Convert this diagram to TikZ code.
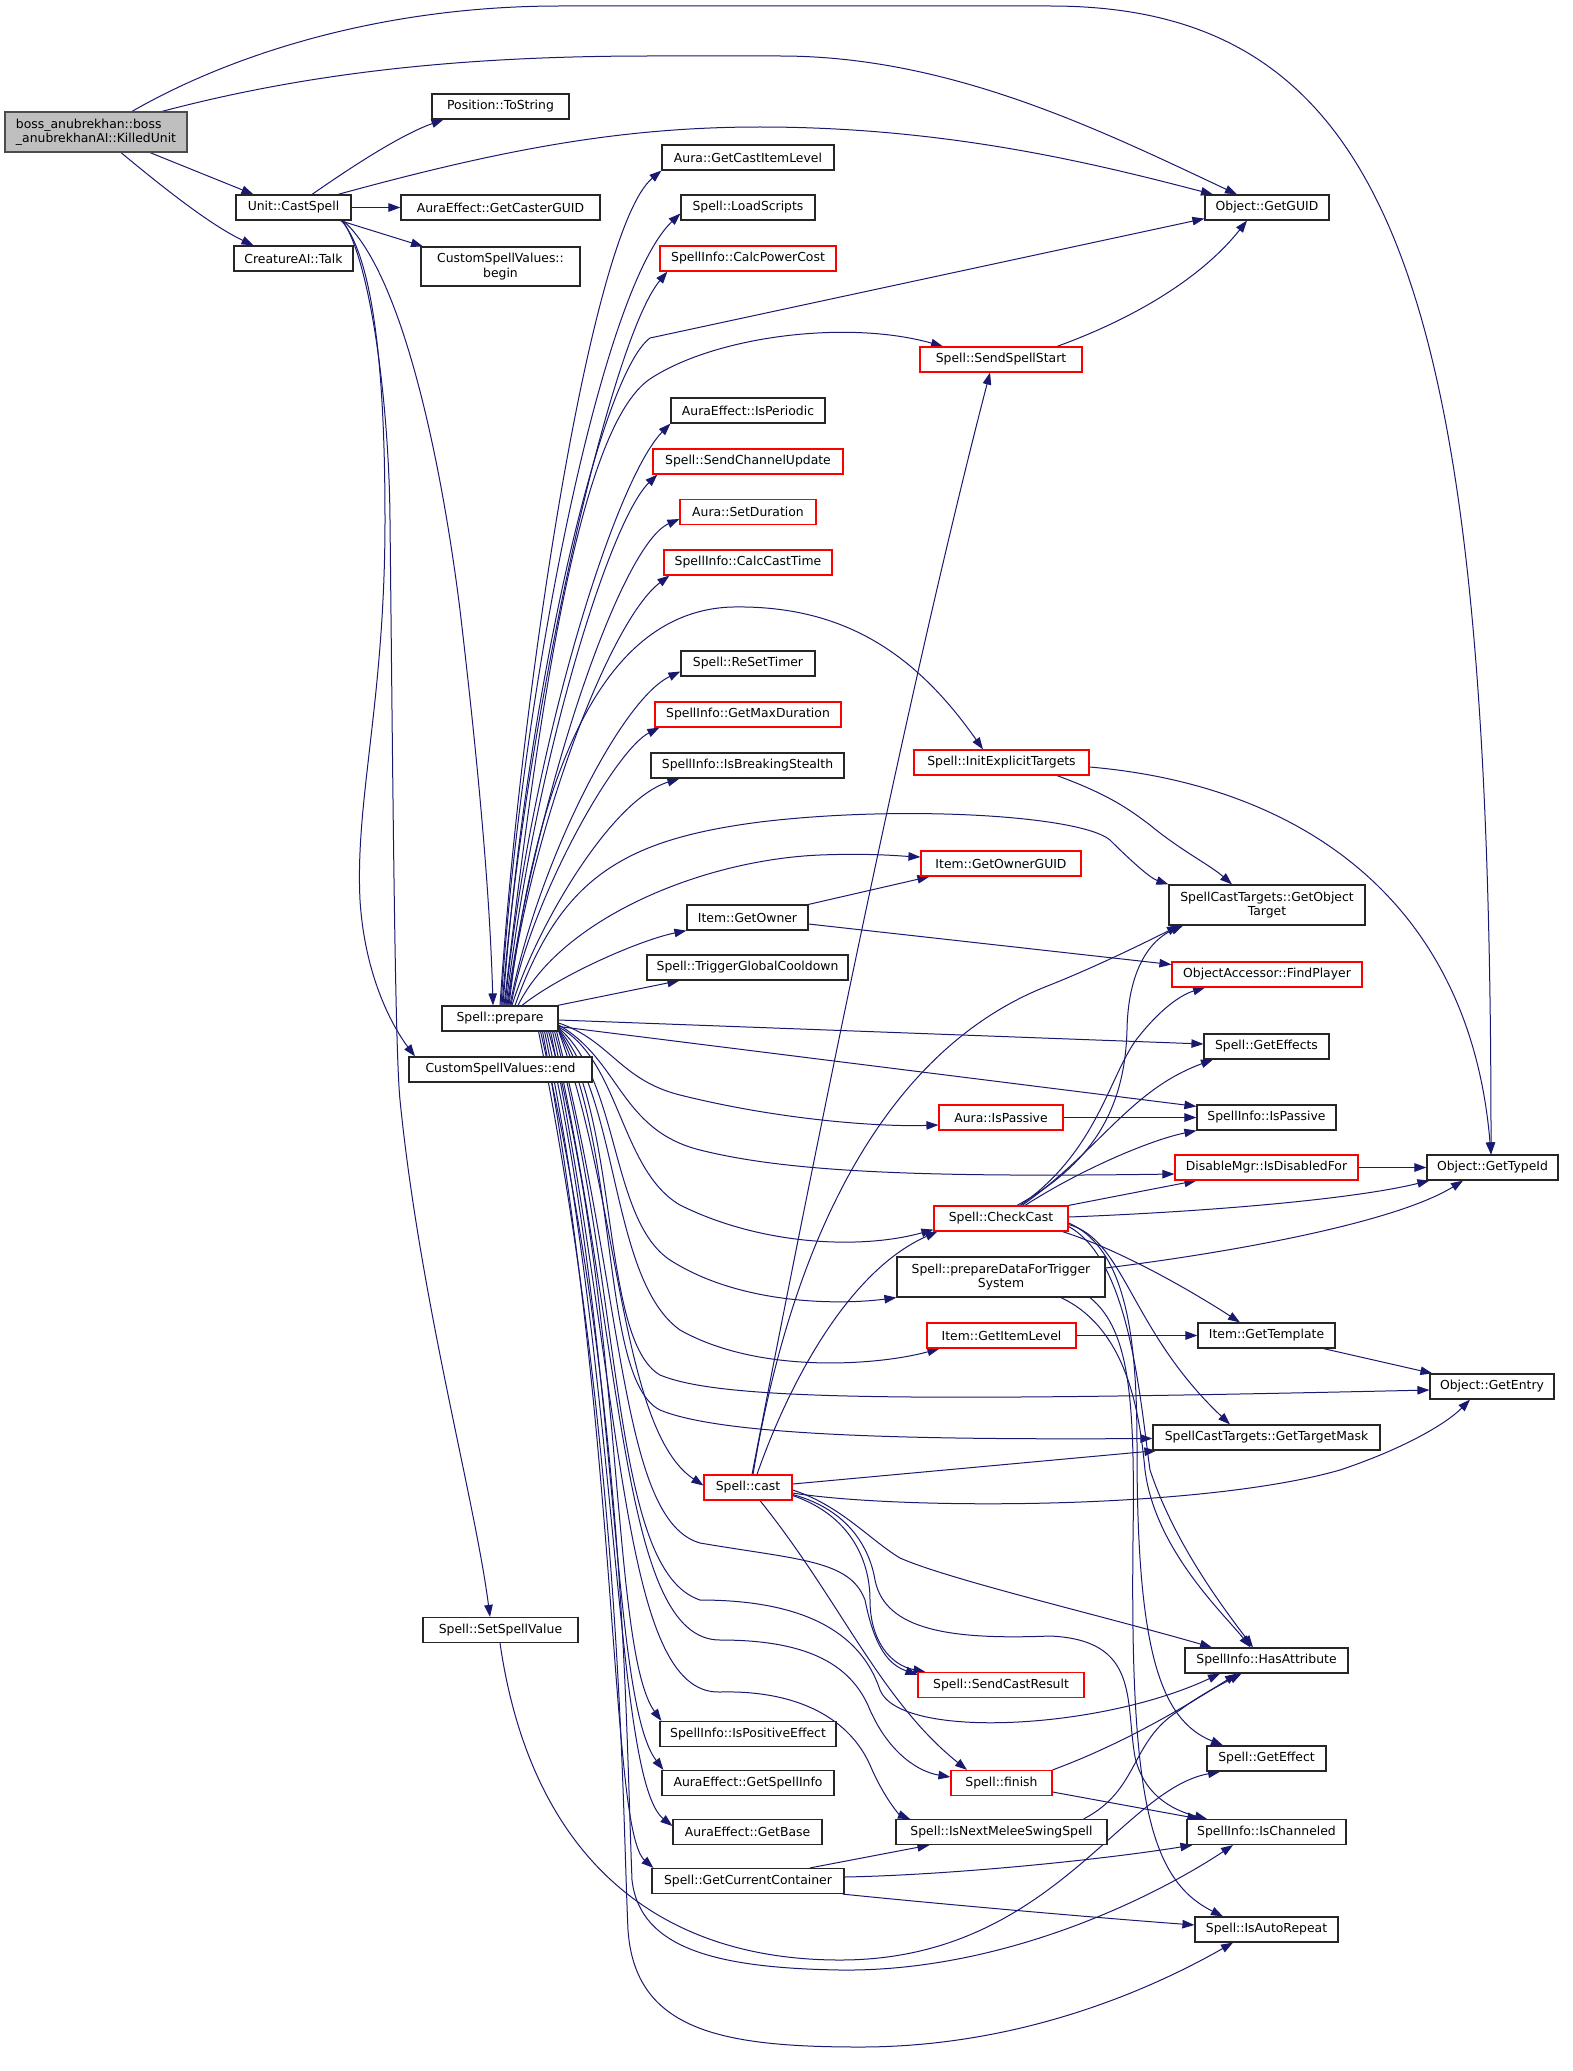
\documentclass[tikz,border=0pt]{standalone}
\usepackage{fontspec}
\newfontfamily\dvs{DejaVu Sans}
\usetikzlibrary{arrows.meta}
\definecolor{edgeblue}{HTML}{191970}
\definecolor{rootgray}{HTML}{BFBFBF}
\pgfdeclarelayer{bg}
\pgfsetlayers{bg,main}
\begin{document}
\begin{tikzpicture}[x=1pt,y=-1pt,
  fn/.style={draw=black!85, line width=1.2pt, fill=white, inner sep=0pt, minimum height=25pt,
             font=\dvs\fontsize{12.4}{14.3}\selectfont, text=black},
  fnred/.style={fn, draw=red},
  fnroot/.style={fn, fill=rootgray, draw=black!70},
  cg/.style={draw=edgeblue, line width=1pt, -{Triangle[length=12pt,width=8.5pt]}}]
\useasboundingbox (0,0) rectangle (1573,2071);

% ---------- nodes ----------
\node[fnroot, minimum width=182pt, minimum height=40pt, align=left] (boss) at (96,132) {boss\_anubrekhan::boss\\\_anubrekhanAI::KilledUnit};
\node[fn, minimum width=115pt] (castspell) at (293.5,207.5) {Unit::CastSpell};
\node[fn, minimum width=119pt] (talk) at (293.5,258.5) {CreatureAI::Talk};
\node[fn, minimum width=137pt] (tostring) at (500.5,106.5) {Position::ToString};
\node[fn, minimum width=199pt] (castguid) at (500.5,207.5) {AuraEffect::GetCasterGUID};
\node[fn, minimum width=159pt, minimum height=39pt, align=center] (begin) at (500.5,266.5) {CustomSpellValues::\\begin};
\node[fn, minimum width=183pt] (cend) at (500.5,1069.5) {CustomSpellValues::end};
\node[fn, minimum width=155pt] (setspell) at (500.5,1630) {Spell::SetSpellValue};
\node[fn, minimum width=116pt] (prepare) at (500,1018.5) {Spell::prepare};

\node[fn, minimum width=172pt] (getcastitem) at (748,157.5) {Aura::GetCastItemLevel};
\node[fn, minimum width=134pt] (loadscripts) at (748,207.5) {Spell::LoadScripts};
\node[fnred, minimum width=176pt] (calcpower) at (748,258.5) {SpellInfo::CalcPowerCost};
\node[fn, minimum width=154pt] (isperiodic) at (748,410.5) {AuraEffect::IsPeriodic};
\node[fnred, minimum width=190pt] (sendchannel) at (748,461.5) {Spell::SendChannelUpdate};
\node[fnred, minimum width=136pt] (setduration) at (748,512) {Aura::SetDuration};
\node[fnred, minimum width=168pt] (calccast) at (748,562.5) {SpellInfo::CalcCastTime};
\node[fn, minimum width=134pt] (resettimer) at (748,663.5) {Spell::ReSetTimer};
\node[fnred, minimum width=186pt] (getmaxdur) at (748,714.5) {SpellInfo::GetMaxDuration};
\node[fn, minimum width=193pt] (breaking) at (747.5,765.5) {SpellInfo::IsBreakingStealth};
\node[fn, minimum width=121pt] (getowner) at (747.5,917.5) {Item::GetOwner};
\node[fn, minimum width=201pt] (triggergcd) at (747.5,967.5) {Spell::TriggerGlobalCooldown};
\node[fnred, minimum width=88pt] (cast) at (748,1487.5) {Spell::cast};
\node[fn, minimum width=176pt] (ispositive) at (748,1734) {SpellInfo::IsPositiveEffect};
\node[fn, minimum width=172pt] (getspellinfo) at (748,1783) {AuraEffect::GetSpellInfo};
\node[fn, minimum width=149pt] (getbase) at (747.5,1832) {AuraEffect::GetBase};
\node[fn, minimum width=192pt] (getcontainer) at (748,1881) {Spell::GetCurrentContainer};

\node[fnred, minimum width=162pt] (sendspellstart) at (1001,359.5) {Spell::SendSpellStart};
\node[fnred, minimum width=175pt] (initexplicit) at (1001.5,762.5) {Spell::InitExplicitTargets};
\node[fnred, minimum width=160pt] (getownerguid) at (1001,863.5) {Item::GetOwnerGUID};
\node[fnred, minimum width=124pt] (auraispassive) at (1001,1117.5) {Aura::IsPassive};
\node[fnred, minimum width=134pt] (checkcast) at (1001,1218.5) {Spell::CheckCast};
\node[fn, minimum width=208pt, minimum height=40pt, align=center] (preparedata) at (1001,1277) {Spell::prepareDataForTrigger\\System};
\node[fnred, minimum width=149pt] (getitemlevel) at (1001.5,1335.5) {Item::GetItemLevel};
\node[fnred, minimum width=166pt] (sendcastresult) at (1001,1685) {Spell::SendCastResult};
\node[fnred, minimum width=101pt] (finish) at (1001.5,1783) {Spell::finish};
\node[fn, minimum width=211pt] (isnextmelee) at (1001.5,1832) {Spell::IsNextMeleeSwingSpell};

\node[fn, minimum width=124pt] (getguid) at (1267,207.5) {Object::GetGUID};
\node[fn, minimum width=196pt, minimum height=40pt, align=center] (getobjtarget) at (1267,905) {SpellCastTargets::GetObject\\Target};
\node[fnred, minimum width=190pt] (findplayer) at (1267,974.5) {ObjectAccessor::FindPlayer};
\node[fn, minimum width=125pt] (geteffects) at (1266.5,1046.5) {Spell::GetEffects};
\node[fn, minimum width=139pt] (infoispassive) at (1266.5,1117.5) {SpellInfo::IsPassive};
\node[fnred, minimum width=183pt] (disabled) at (1266.5,1167.5) {DisableMgr::IsDisabledFor};
\node[fn, minimum width=137pt] (gettemplate) at (1266.5,1335.5) {Item::GetTemplate};
\node[fn, minimum width=227pt] (gettargetmask) at (1266.5,1437.5) {SpellCastTargets::GetTargetMask};
\node[fn, minimum width=163pt] (hasattr) at (1266.5,1660.5) {SpellInfo::HasAttribute};
\node[fn, minimum width=119pt] (geteffect) at (1266.5,1758.5) {Spell::GetEffect};
\node[fn, minimum width=159pt] (ischanneled) at (1266.5,1832) {SpellInfo::IsChanneled};
\node[fn, minimum width=143pt] (isautorepeat) at (1266.5,1929.5) {Spell::IsAutoRepeat};

\node[fn, minimum width=131pt] (gettypeid) at (1492.5,1167.5) {Object::GetTypeId};
\node[fn, minimum width=124pt] (getentry) at (1492,1386.5) {Object::GetEntry};

% ---------- edges ----------
\begin{pgfonlayer}{bg}
\fill[white] (0,0) rectangle (1573,2071);
% root
\draw[cg] ([xshift=36pt]boss.north) .. controls (230,55) and (380,6) .. (560,6) -- (1050,6) .. controls (1400,6) and (1491,300) .. ([xshift=-1.5pt]gettypeid.north);
\draw[cg] ([xshift=66pt]boss.north) .. controls (300,75) and (450,56) .. (650,56) -- (780,56) .. controls (950,56) and (1100,130) .. ([xshift=-30pt]getguid.north);
\draw[cg] ([xshift=54pt]boss.south) -- ([xshift=-40pt]castspell.north);
\draw[cg] ([xshift=25pt]boss.south) .. controls (160,185) and (210,225) .. ([xshift=-40pt]talk.north);
% Unit::CastSpell
\draw[cg] ([xshift=18.5pt]castspell.north) .. controls (350,168) and (400,135) .. ([xshift=-57pt]tostring.south);
\draw[cg] ([xshift=44.5pt]castspell.north) .. controls (500,150) and (620,127) .. (760,127) .. controls (950,127) and (1100,165) .. ([xshift=-54pt]getguid.north);
\draw[cg] (castspell.east) -- (castguid.west);
\draw[cg] ([xshift=46.5pt]castspell.south) -- ([xshift=-77.5pt]begin.north);
\draw[cg] ([xshift=49.5pt]castspell.south) .. controls (400,270) and (440,450) .. (460,610) .. controls (480,780) and (490,900) .. ([xshift=-7pt]prepare.north);
\draw[cg] ([xshift=48pt]castspell.south) .. controls (375,260) and (385,380) .. (385,520) .. controls (385,700) and (355,800) .. (360,900) .. controls (365,980) and (395,1030) .. ([xshift=-85.5pt]cend.north);
\draw[cg] ([xshift=49pt]castspell.south) .. controls (370,260) and (389,400) .. (390,520) .. controls (393,800) and (395,1050) .. (400,1100) .. controls (420,1300) and (475,1500) .. ([xshift=-10.5pt]setspell.north);
% SetSpellValue
\draw[cg] ([xshift=-0.5pt]setspell.south) .. controls (530,1850) and (650,1960) .. (840,1960) .. controls (1050,1960) and (1120,1790) .. ([xshift=-46.5pt]geteffect.south);
% Spell::prepare - upper fan
\draw[cg] (prepare.north) .. controls (520,700) and (590,230) .. (getcastitem.south west);
\draw[cg] ([xshift=1pt]prepare.north) .. controls (520,700) and (600,290) .. ([yshift=-6pt]loadscripts.west);
\draw[cg] ([xshift=2pt]prepare.north) .. controls (525,720) and (610,340) .. ([xshift=8pt]calcpower.south west);
\draw[cg] ([xshift=3pt]prepare.north) .. controls (525,700) and (600,375) .. (650,338) -- ([yshift=2pt]getguid.south west);
\draw[cg] ([xshift=4pt]prepare.north) .. controls (540,700) and (580,420) .. (653,377) .. controls (720,335) and (850,320) .. ([xshift=-58pt]sendspellstart.north);
\draw[cg] ([xshift=5pt]prepare.north) .. controls (530,750) and (615,480) .. (isperiodic.south west);
\draw[cg] ([xshift=6pt]prepare.north) .. controls (535,760) and (610,520) .. ([xshift=5pt]sendchannel.south west);
\draw[cg] ([xshift=7pt]prepare.north) .. controls (535,800) and (620,545) .. ([yshift=-7pt]setduration.west);
\draw[cg] ([xshift=8pt]prepare.north) .. controls (530,830) and (610,620) .. ([xshift=6pt]calccast.south west);
\draw[cg] ([xshift=9pt]prepare.north) .. controls (535,780) and (600,610) .. (733,607) .. controls (850,605) and (920,660) .. ([xshift=-18.5pt]initexplicit.north);
\draw[cg] ([xshift=10pt]prepare.north) .. controls (535,870) and (620,700) .. ([yshift=-8pt]resettimer.west);
\draw[cg] ([xshift=11pt]prepare.north) .. controls (530,900) and (615,750) .. ([xshift=5pt]getmaxdur.south west);
\draw[cg] ([xshift=12pt]prepare.north) .. controls (535,930) and (610,800) .. ([xshift=29pt]breaking.south west);
\draw[cg] ([xshift=15pt]prepare.north) .. controls (560,880) and (620,840) .. (760,822) .. controls (900,805) and (1080,815) .. (1110,840) .. controls (1130,860) and (1150,878) .. (getobjtarget.north west);
\draw[cg] ([xshift=18pt]prepare.north) .. controls (560,920) and (700,860) .. (820,855) .. controls (870,853) and (900,856) .. ([yshift=6.5pt]getownerguid.west);
\draw[cg] ([xshift=22pt]prepare.north) .. controls (560,975) and (640,940) .. (getowner.south west);
\draw[cg] ([xshift=-1pt]prepare.north east) -- ([xshift=33pt]triggergcd.south west);
% Spell::prepare - right fan
\draw[cg] ([yshift=-1.5pt]prepare.east) -- ([yshift=2.5pt]geteffects.west);
\draw[cg] ([yshift=-8pt]prepare.east) -- ([yshift=-2pt]infoispassive.north west);
\draw[cg] ([yshift=-4.5pt]prepare.east) .. controls (610,1040) and (620,1080) .. (680,1095) .. controls (780,1120) and (880,1127) .. ([yshift=-7.5pt]auraispassive.west);
\draw[cg] ([yshift=-6.5pt]prepare.east) .. controls (620,1060) and (620,1130) .. (700,1150) .. controls (780,1170) and (900,1178) .. ([yshift=-6.5pt]disabled.west);
\draw[cg] ([yshift=-8.5pt]prepare.east) .. controls (620,1060) and (620,1170) .. (680,1205) .. controls (760,1245) and (860,1250) .. ([yshift=2pt]checkcast.south west);
\draw[cg] ([yshift=-9.5pt]prepare.east) .. controls (620,1080) and (610,1220) .. (670,1260) .. controls (740,1305) and (840,1305) .. (preparedata.south west);
\draw[cg] ([yshift=-10.5pt]prepare.east) .. controls (620,1100) and (610,1280) .. (680,1330) .. controls (760,1375) and (880,1365) .. ([xshift=13pt]getitemlevel.south west);
\draw[cg] ([yshift=-11.5pt]prepare.east) .. controls (620,1120) and (600,1340) .. (660,1375) .. controls (720,1400) and (900,1402) .. ([yshift=-3.5pt]getentry.west);
\draw[cg] ([yshift=-12pt]prepare.east) .. controls (620,1150) and (600,1380) .. (660,1410) .. controls (720,1435) and (900,1440) .. ([yshift=-1pt]gettargetmask.west);
\draw[cg] ([yshift=-12.5pt]prepare.east) .. controls (620,1200) and (620,1430) .. ([yshift=2pt]cast.west);
% Spell::prepare - downward
\draw[cg] ([xshift=-2pt]prepare.south east) .. controls (625,1300) and (620,1520) .. (700,1543) .. controls (800,1560) and (850,1560) .. (865,1600) .. controls (875,1650) and (890,1665) .. ([yshift=-3pt]sendcastresult.north west);
\draw[cg] ([xshift=-4pt]prepare.south east) .. controls (625,1300) and (610,1570) .. (700,1600) .. controls (800,1600) and (860,1630) .. (880,1690) .. controls (900,1740) and (1100,1730) .. ([xshift=-46.5pt]hasattr.south);
\draw[cg] ([xshift=-6pt]prepare.south east) .. controls (625,1350) and (620,1640) .. (720,1640) .. controls (800,1640) and (850,1660) .. (870,1710) .. controls (890,1755) and (920,1772) .. ([yshift=6pt]finish.west);
\draw[cg] ([xshift=-8pt]prepare.south east) .. controls (625,1400) and (620,1695) .. (720,1692) .. controls (800,1690) and (850,1720) .. (870,1765) .. controls (885,1800) and (900,1815) .. ([xshift=-91.5pt]isnextmelee.north);
\draw[cg] ([xshift=-10pt]prepare.south east) .. controls (625,1300) and (610,1650) .. ([xshift=2pt]ispositive.north west);
\draw[cg] ([xshift=-12pt]prepare.south east) .. controls (620,1350) and (610,1700) .. ([xshift=2pt]getspellinfo.north west);
\draw[cg] ([xshift=-14pt]prepare.south east) .. controls (620,1400) and (615,1780) .. ([yshift=6pt]getbase.west);
\draw[cg] ([xshift=-16pt]prepare.south east) .. controls (620,1450) and (610,1830) .. ([xshift=2pt]getcontainer.north west);
\draw[cg] ([xshift=-18pt]prepare.south east) .. controls (625,1400) and (625,1700) .. (632,1880) .. controls (640,1950) and (720,1968) .. (840,1970) .. controls (1000,1972) and (1150,1900) .. ([xshift=-33.5pt]ischanneled.south);
\draw[cg] ([xshift=-20pt]prepare.south east) .. controls (622,1450) and (622,1800) .. (628,1930) .. controls (635,2030) and (720,2047) .. (860,2047) .. controls (1020,2047) and (1150,1990) .. ([xshift=-33.5pt]isautorepeat.south);
% Spell::cast
\draw[cg] ([xshift=4pt]cast.north) .. controls (805,1200) and (905,700) .. ([xshift=-11pt]sendspellstart.south);
\draw[cg] ([xshift=5pt]cast.north) .. controls (790,1250) and (880,1050) .. (1050,985) .. controls (1100,965) and (1150,940) .. ([xshift=-88pt]getobjtarget.south);
\draw[cg] ([xshift=9pt]cast.north) .. controls (790,1380) and (850,1270) .. ([xshift=4pt]checkcast.south west);
\draw[cg] ([yshift=3.5pt]cast.east) -- ([xshift=4pt]gettargetmask.south west);
\draw[cg] ([yshift=-5.5pt]cast.east) .. controls (900,1510) and (1200,1510) .. (1340,1470) .. controls (1400,1450) and (1445,1425) .. ([xshift=-22pt]getentry.south);
\draw[cg] ([yshift=-2.5pt]cast.east) .. controls (840,1505) and (870,1540) .. (900,1558) .. controls (950,1580) and (1100,1615) .. ([xshift=-54.5pt]hasattr.north);
\draw[cg] ([yshift=-8pt]cast.east) .. controls (850,1515) and (870,1560) .. (870,1600) .. controls (870,1640) and (890,1665) .. ([xshift=8pt]sendcastresult.north west);
\draw[cg] ([xshift=12pt]cast.south) .. controls (840,1600) and (880,1700) .. ([xshift=-34.5pt]finish.north);
\draw[cg] ([yshift=-7pt]cast.east) .. controls (850,1510) and (870,1550) .. (875,1580) .. controls (885,1630) and (950,1640) .. (1050,1636) .. controls (1140,1640) and (1125,1700) .. (1135,1757) .. controls (1145,1800) and (1180,1812) .. ([xshift=-59.5pt]ischanneled.north);
% Spell::CheckCast
\draw[cg] ([xshift=16pt]checkcast.north) .. controls (1100,1160) and (1125,1100) .. (1127,1030) .. controls (1128,970) and (1150,940) .. ([xshift=-84pt]getobjtarget.south);
\draw[cg] ([xshift=19pt]checkcast.north) .. controls (1100,1150) and (1110,1070) .. (1140,1035) .. controls (1160,1010) and (1180,995) .. ([xshift=-62pt]findplayer.south);
\draw[cg] ([xshift=21pt]checkcast.north) .. controls (1100,1150) and (1130,1090) .. ([xshift=-53.5pt]geteffects.south);
\draw[cg] ([xshift=24pt]checkcast.north) .. controls (1080,1170) and (1150,1140) .. (infoispassive.south west);
\draw[cg] (checkcast.north east) -- ([xshift=22pt]disabled.south west);
\draw[cg] ([yshift=1.5pt]checkcast.east) .. controls (1200,1212) and (1350,1200) .. ([xshift=3pt]gettypeid.south west);
\draw[cg] ([xshift=-6pt]checkcast.south east) .. controls (1120,1250) and (1190,1290) .. ([xshift=-26.5pt]gettemplate.north);
\draw[cg] ([yshift=-6pt]checkcast.east) .. controls (1125,1240) and (1130,1330) .. ([xshift=-36.5pt]gettargetmask.north);
\draw[cg] ([yshift=-8pt]checkcast.east) .. controls (1130,1260) and (1140,1400) .. (1150,1470) .. controls (1175,1545) and (1225,1610) .. ([xshift=-13.5pt]hasattr.north);
\draw[cg] ([yshift=-4.5pt]checkcast.east) .. controls (1130,1250) and (1137,1350) .. (1137,1450) .. controls (1137,1650) and (1160,1720) .. ([xshift=-43.5pt]geteffect.north);
% Spell::prepareDataForTriggerSystem
\draw[cg] ([yshift=9pt]preparedata.east) .. controls (1250,1250) and (1400,1220) .. ([xshift=-29.5pt]gettypeid.south);
\draw[cg] ([xshift=60pt]preparedata.south) .. controls (1130,1330) and (1140,1420) .. (1145,1470) .. controls (1155,1550) and (1225,1615) .. ([xshift=-16pt]hasattr.north);
\draw[cg] ([xshift=89pt]preparedata.south) .. controls (1130,1330) and (1135,1400) .. (1133,1540) .. controls (1130,1800) and (1150,1880) .. ([xshift=-43.5pt]isautorepeat.north);
% Spell::InitExplicitTargets
\draw[cg] ([xshift=55.5pt]initexplicit.south) .. controls (1110,795) and (1130,810) .. (1150,825) .. controls (1180,850) and (1210,865) .. ([xshift=-35pt]getobjtarget.north);
\draw[cg] ([yshift=-4.5pt]initexplicit.east) .. controls (1300,785) and (1470,900) .. ([xshift=-1.5pt]gettypeid.north);
% Spell::SendSpellStart
\draw[cg] ([xshift=56pt]sendspellstart.north) .. controls (1130,320) and (1200,280) .. ([xshift=-20pt]getguid.south);
% Item::GetOwner
\draw[cg] (getowner.north east) -- ([xshift=9pt]getownerguid.south west);
\draw[cg] ([yshift=-6.5pt]getowner.east) -- ([yshift=10pt]findplayer.west);
% simple links
\draw[cg] (auraispassive.east) -- (infoispassive.west);
\draw[cg] (disabled.east) -- (gettypeid.west);
\draw[cg] (getitemlevel.east) -- (gettemplate.west);
\draw[cg] ([xshift=-12pt]gettemplate.south east) -- ([xshift=3pt]getentry.north west);
% Spell::finish
\draw[cg] (finish.north east) .. controls (1120,1745) and (1180,1710) .. ([xshift=-29.5pt]hasattr.south);
\draw[cg] ([yshift=-9pt]finish.east) -- ([xshift=13pt]ischanneled.north west);
% Spell::IsNextMeleeSwingSpell
\draw[cg] ([xshift=-24pt]isnextmelee.north east) .. controls (1140,1790) and (1130,1740) .. (1180,1710) .. controls (1200,1695) and (1220,1685) .. ([xshift=-25pt]hasattr.south);
% Spell::GetCurrentContainer
\draw[cg] ([xshift=62pt]getcontainer.north) -- ([xshift=34pt]isnextmelee.south west);
\draw[cg] ([yshift=4pt]getcontainer.east) .. controls (950,1875) and (1100,1860) .. ([xshift=6pt]ischanneled.south west);
\draw[cg] ([xshift=-2pt]getcontainer.south east) .. controls (950,1905) and (1100,1918) .. ([yshift=4.5pt]isautorepeat.west);
\end{pgfonlayer}
\end{tikzpicture}
\end{document}
